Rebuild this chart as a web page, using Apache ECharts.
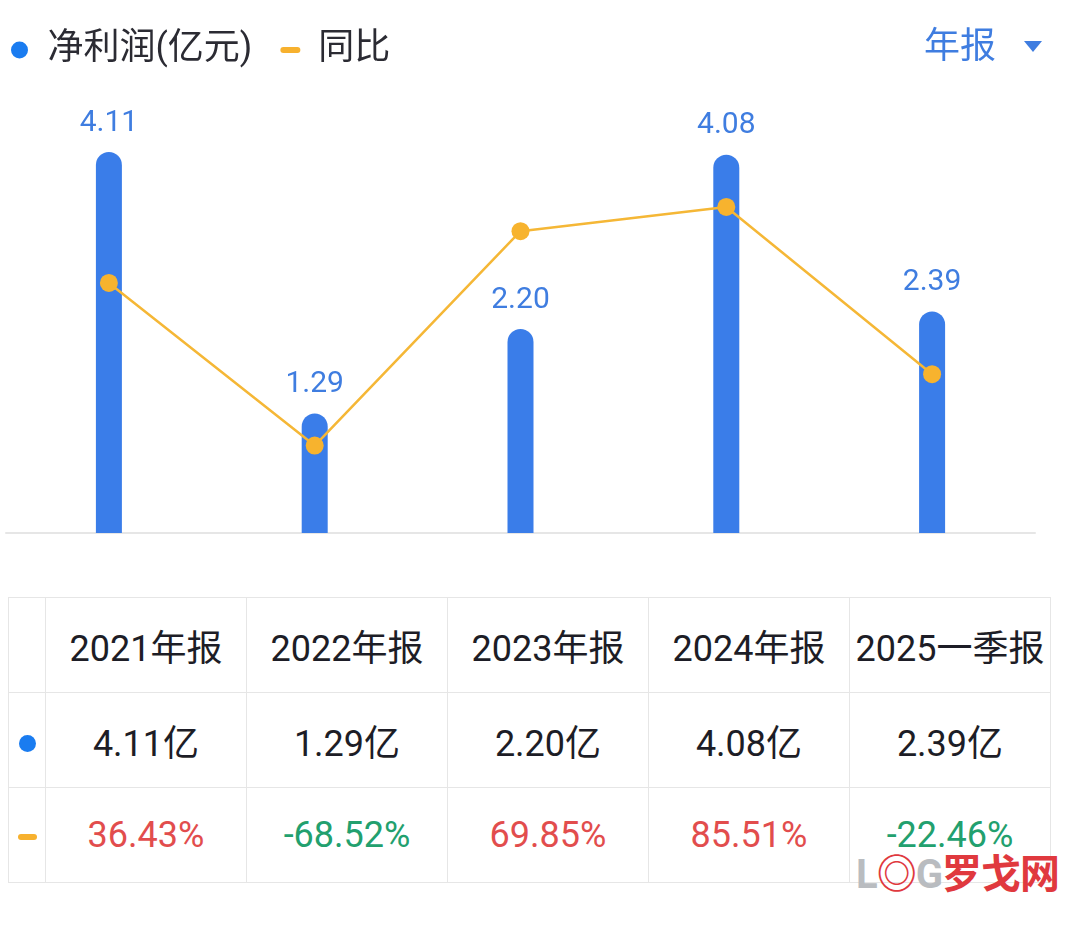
<!DOCTYPE html>
<html lang="zh">
<head>
    <meta charset="UTF-8">
    <title>净利润</title>
    <script src="https://cdn.jsdelivr.net/npm/echarts@6/dist/echarts.min.js"></script>
    <style>
        body { margin: 0; background: #fff; font-family: Roboto, "Noto Sans CJK SC", sans-serif; }
        #main { position: absolute; left: 0; top: 0; width: 1080px; height: 560px; }
        #tbl { position: absolute; left: 8px; top: 597px; width: 1043px; border-collapse: collapse; table-layout: fixed; }
        #tbl td { border: 1px solid #e6e6e6; height: 94px; text-align: center; font-size: 36px; color: #1d1d26; padding: 0; white-space: nowrap; }
        #tbl td.icon { width: 36px; }
        .dot { display: inline-block; width: 17px; height: 17px; border-radius: 50%; background: #1a7cf0; }
        .dash { display: inline-block; width: 19px; height: 6px; border-radius: 3px; background: #f7b12e; vertical-align: middle; }
        .up { color: #e24d4d !important; }
        .down { color: #22a06e !important; }
        #mark { position: absolute; left: 856px; top: 842px; font-size: 40px; font-weight: bold; white-space: nowrap; letter-spacing: -1px; }
    </style>
</head>
<body>
<div id="main"></div>
<table id="tbl"></table>
<div id="mark"><span style="color:#b9bcc0">L</span><span style="color:#e0393e">◎</span><span style="color:#b9bcc0">G</span><span style="color:#e0393e">罗戈网</span></div>
<script>
    // 报告期
    let periods = ['2021年报', '2022年报', '2023年报', '2024年报', '2025一季报'];
    // 净利润(亿元)
    let profit = [4.11, 1.29, 2.20, 4.08, 2.39];
    // 同比(%)
    let yoy = [36.43, -68.52, 69.85, 85.51, -22.46];

    // 下面的表格
    let rows = '<tr><td class="icon"></td>';
    periods.forEach(p => { rows += '<td>' + p + '</td>'; });
    rows += '</tr><tr><td class="icon"><span class="dot"></span></td>';
    profit.forEach(v => { rows += '<td>' + v.toFixed(2) + '亿</td>'; });
    rows += '</tr><tr><td class="icon"><span class="dash"></span></td>';
    yoy.forEach(v => { rows += '<td class="' + (v >= 0 ? 'up' : 'down') + '">' + v.toFixed(2) + '%</td>'; });
    rows += '</tr>';
    document.getElementById('tbl').innerHTML = rows;

    let myChart = echarts.init(document.getElementById('main'));
    let option = {
        animation: false,
        textStyle: { fontFamily: 'Roboto, "Noto Sans CJK SC", sans-serif' },
        legend: {
            left: 6,
            top: 27,
            itemWidth: 20,
            itemHeight: 17,
            itemGap: 28,
            textStyle: { fontSize: 36, color: '#2b2b33', padding: [0, 0, 0, 13] },
            data: [
                { name: '净利润(亿元)', icon: 'circle', itemStyle: { color: '#1a7cf0' } },
                { name: '同比', icon: 'path://M3,0h14a3,3 0 0 1 0,6h-14a3,3 0 0 1 0,-6z', itemStyle: { color: '#f7b12e' } }
            ]
        },
        graphic: [
            {
                type: 'text',
                right: 84,
                top: 26,
                style: { text: '年报', fontSize: 36, fill: '#3f7de0', fontFamily: '"Noto Sans CJK SC"' }
            },
            {
                type: 'polygon',
                right: 38,
                top: 41,
                shape: { points: [[0, 0], [18, 0], [9, 11]] },
                style: { fill: '#3f7de0' }
            }
        ],
        grid: { left: 6, right: 45, top: 152, bottom: 27 },
        xAxis: {
            type: 'category',
            data: periods,
            axisLine: { lineStyle: { color: '#e6e6e6', width: 2 } },
            axisTick: { show: false },
            axisLabel: { show: false }
        },
        yAxis: [
            { type: 'value', min: 0, max: 4.11, show: false, splitLine: { show: false } },
            { type: 'value', min: -125, max: 121, show: false, splitLine: { show: false } }
        ],
        series: [
            {
                name: '净利润(亿元)',
                type: 'bar',
                data: profit,
                barWidth: 26,
                itemStyle: { color: '#3a7de9', borderRadius: [13, 13, 0, 0] },
                label: {
                    show: true,
                    position: 'top',
                    distance: 14,
                    fontSize: 30,
                    color: '#3f7de0',
                    formatter: p => p.value.toFixed(2)
                }
            },
            {
                name: '同比',
                type: 'line',
                yAxisIndex: 1,
                data: yoy,
                symbol: 'circle',
                symbolSize: 18,
                z: 5,
                lineStyle: { color: '#f5b736', width: 2.5 },
                itemStyle: { color: '#f7b32e' }
            }
        ]
    };
    myChart.setOption(option);
    window.addEventListener('resize', function () {
        myChart.resize();
    });
</script>
</body>
</html>
